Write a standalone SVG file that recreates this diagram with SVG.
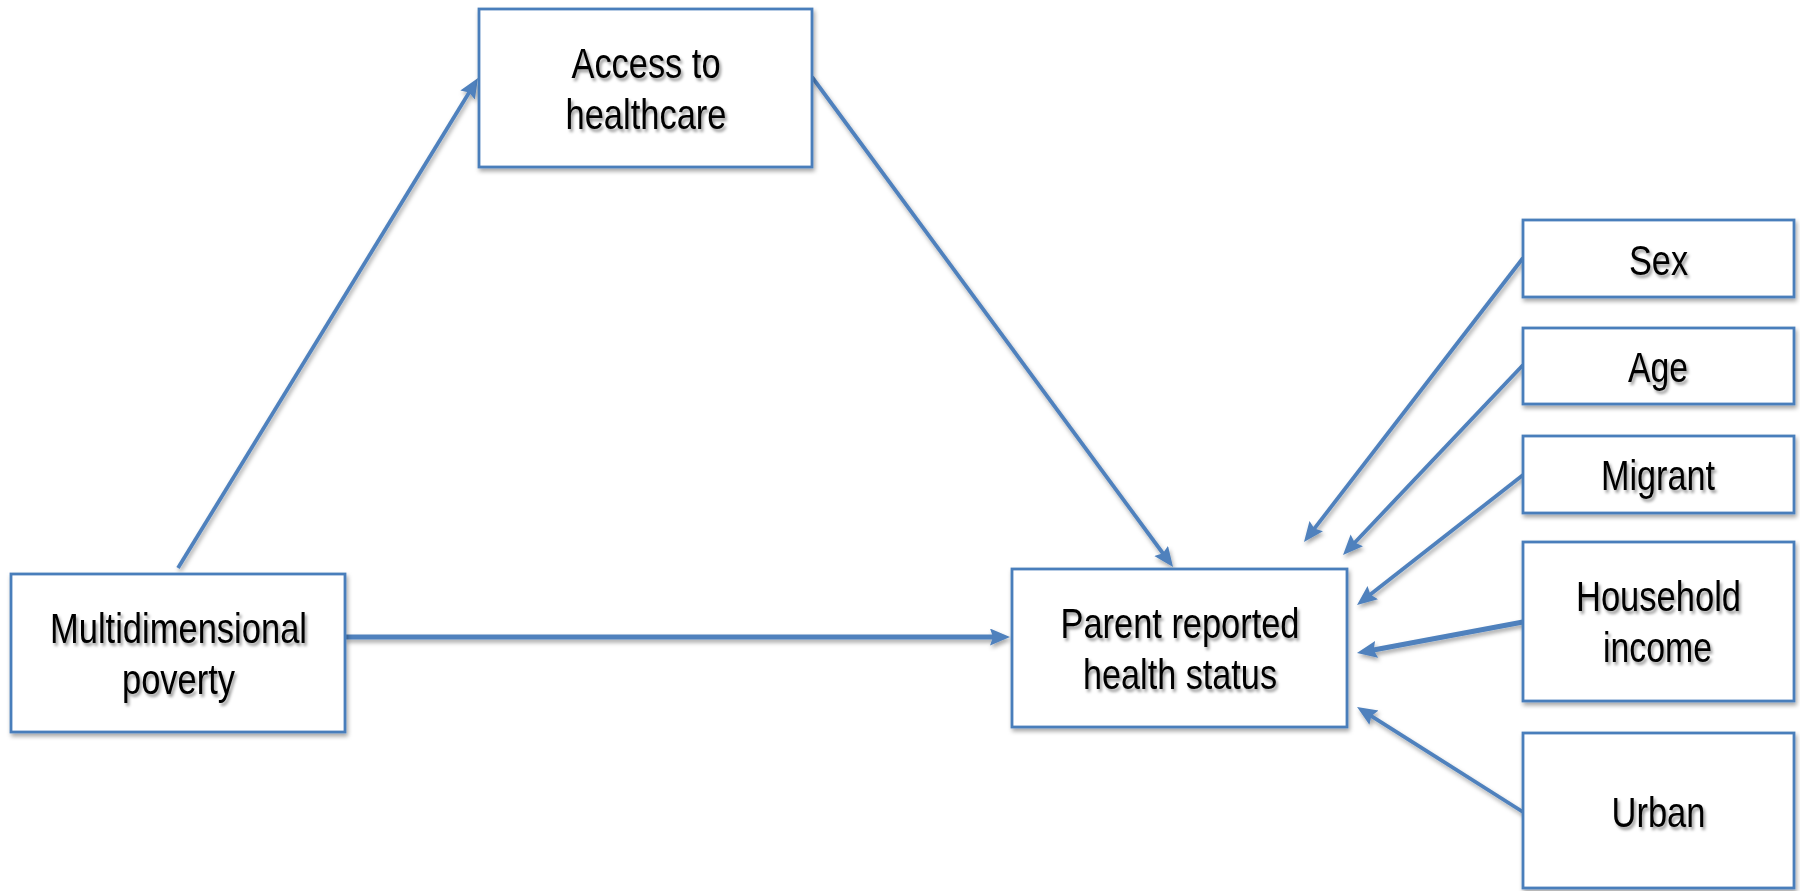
<svg xmlns="http://www.w3.org/2000/svg" width="1800" height="891" viewBox="0 0 1800 891">
<style>
.box{fill:#ffffff;stroke:#4a7ebb;stroke-width:2.8}
.lbl{font-family:"Liberation Sans Narrow","Arial Narrow","Liberation Sans",Arial,sans-serif;font-size:42px;fill:#000000;text-anchor:middle}
.con{stroke:#4f81bd;stroke-width:3.8;fill:none;marker-end:url(#ah)}
.thick{stroke-width:5}
</style>
<defs>
<filter id="sh" x="-10%" y="-10%" width="130%" height="140%">
<feDropShadow dx="1.5" dy="3" stdDeviation="2" flood-color="#000000" flood-opacity="0.35"/>
</filter>
<filter id="tsh" x="-10%" y="-20%" width="130%" height="160%">
<feDropShadow dx="2" dy="3" stdDeviation="1.8" flood-color="#000000" flood-opacity="0.4"/>
</filter>
<marker id="ah" markerUnits="userSpaceOnUse" markerWidth="22" markerHeight="18" refX="10" refY="8.5" orient="auto">
<path d="M0,0 L20,8.5 L0,17 L3,8.5 z" fill="#4f81bd"/>
</marker>
</defs>
<g id="connectors" filter="url(#sh)">
<line class="con" x1="178" y1="568" x2="472.8" y2="86.5"/>
<line class="con" x1="812" y1="77" x2="1167.1" y2="559"/>
<line class="con thick" x1="345" y1="637" x2="1000" y2="637"/>
<line class="con" x1="1523" y1="258" x2="1310.1" y2="534.1"/>
<line class="con" x1="1523" y1="365" x2="1349.9" y2="547.7"/>
<line class="con" x1="1523" y1="475" x2="1364.9" y2="598.8"/>
<line class="con thick" x1="1523" y1="622" x2="1366.8" y2="651.2"/>
<line class="con" x1="1523" y1="812" x2="1365.5" y2="712.3"/>
</g>
<g id="access">
<rect class="box" x="479" y="9" width="333" height="158" filter="url(#sh)"/>
<g filter="url(#tsh)">
<text class="lbl" x="646" y="78" textLength="149" lengthAdjust="spacingAndGlyphs">Access to</text>
<text class="lbl" x="646" y="129" textLength="161" lengthAdjust="spacingAndGlyphs">healthcare</text>
</g>
</g>
<g id="multi">
<rect class="box" x="11" y="574" width="334" height="158" filter="url(#sh)"/>
<g filter="url(#tsh)">
<text class="lbl" x="178.5" y="643" textLength="257" lengthAdjust="spacingAndGlyphs">Multidimensional</text>
<text class="lbl" x="178.5" y="694" textLength="113" lengthAdjust="spacingAndGlyphs">poverty</text>
</g>
</g>
<g id="parent">
<rect class="box" x="1012" y="569" width="335" height="158" filter="url(#sh)"/>
<g filter="url(#tsh)">
<text class="lbl" x="1180" y="638" textLength="239" lengthAdjust="spacingAndGlyphs">Parent reported</text>
<text class="lbl" x="1180" y="689" textLength="194" lengthAdjust="spacingAndGlyphs">health status</text>
</g>
</g>
<g id="sex">
<rect class="box" x="1523" y="220" width="271" height="77" filter="url(#sh)"/>
<text class="lbl" x="1658.5" y="275" textLength="59" lengthAdjust="spacingAndGlyphs" filter="url(#tsh)">Sex</text>
</g>
<g id="age">
<rect class="box" x="1523" y="328" width="271" height="76" filter="url(#sh)"/>
<text class="lbl" x="1658" y="382" textLength="60" lengthAdjust="spacingAndGlyphs" filter="url(#tsh)">Age</text>
</g>
<g id="migrant">
<rect class="box" x="1523" y="436" width="271" height="77" filter="url(#sh)"/>
<text class="lbl" x="1658" y="490" textLength="114" lengthAdjust="spacingAndGlyphs" filter="url(#tsh)">Migrant</text>
</g>
<g id="household">
<rect class="box" x="1523" y="542" width="271" height="159" filter="url(#sh)"/>
<g filter="url(#tsh)">
<text class="lbl" x="1658.5" y="611" textLength="165" lengthAdjust="spacingAndGlyphs">Household</text>
<text class="lbl" x="1657.5" y="662" textLength="109" lengthAdjust="spacingAndGlyphs">income</text>
</g>
</g>
<g id="urban">
<rect class="box" x="1523" y="733" width="271" height="155" filter="url(#sh)"/>
<text class="lbl" x="1658.5" y="827" textLength="94" lengthAdjust="spacingAndGlyphs" filter="url(#tsh)">Urban</text>
</g>
</svg>
